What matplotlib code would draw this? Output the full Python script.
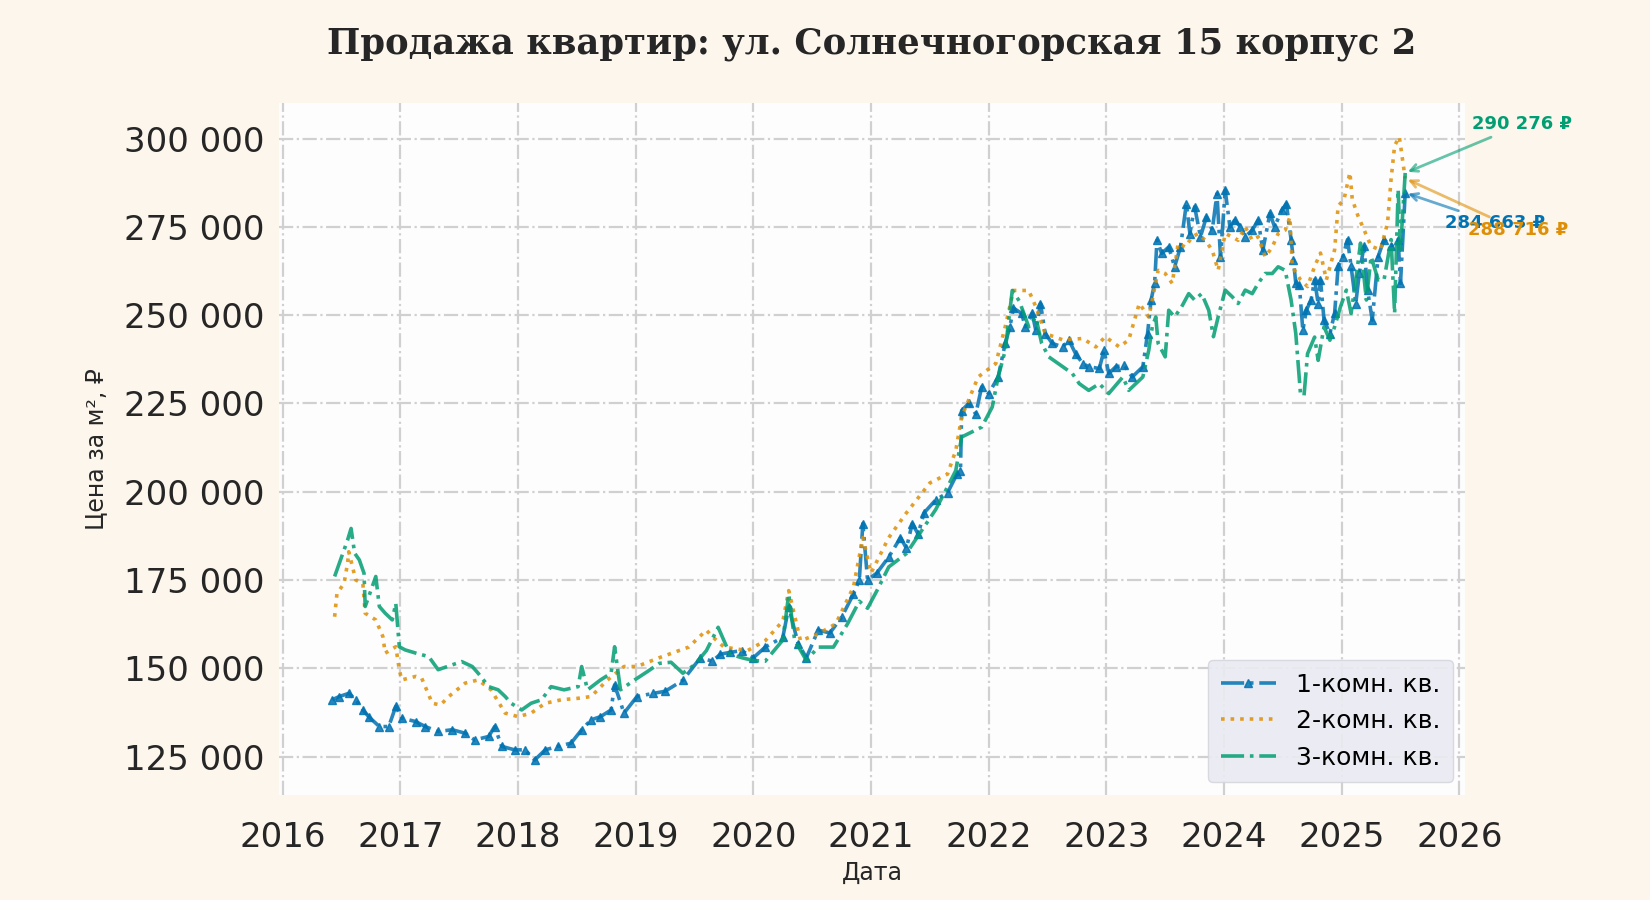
import matplotlib
matplotlib.use("Agg")
import matplotlib.pyplot as plt
from matplotlib.ticker import FuncFormatter, MultipleLocator, FormatStrFormatter

# 1-комн. кв.: (год, тыс. руб. за м²)
dates_1 = [2016.42, 2016.48, 2016.56, 2016.62, 2016.68, 2016.73, 2016.82, 2016.90, 2016.96, 2017.01,
           2017.13, 2017.21, 2017.32, 2017.44, 2017.55, 2017.63, 2017.75, 2017.80, 2017.86, 2017.97,
           2018.06, 2018.14, 2018.23, 2018.34, 2018.45, 2018.54, 2018.62, 2018.70, 2018.79, 2018.82,
           2018.90, 2019.01, 2019.15, 2019.25, 2019.40, 2019.55, 2019.65, 2019.72, 2019.80, 2019.90,
           2020.00, 2020.10, 2020.25, 2020.30, 2020.38, 2020.45, 2020.55, 2020.65, 2020.75, 2020.85,
           2020.90, 2020.93, 2020.97, 2021.05, 2021.15, 2021.25, 2021.30, 2021.35, 2021.40, 2021.45,
           2021.55, 2021.65, 2021.73, 2021.76, 2021.77, 2021.83, 2021.89, 2021.94, 2022.00, 2022.08,
           2022.14, 2022.18, 2022.21, 2022.28, 2022.31, 2022.37, 2022.40, 2022.44, 2022.48, 2022.54,
           2022.63, 2022.68, 2022.74, 2022.80, 2022.85, 2022.94, 2022.98, 2023.02, 2023.08, 2023.15,
           2023.22, 2023.31, 2023.35, 2023.38, 2023.41, 2023.43, 2023.47, 2023.53, 2023.58, 2023.63,
           2023.68, 2023.71, 2023.75, 2023.80, 2023.85, 2023.90, 2023.94, 2023.97, 2024.01, 2024.05,
           2024.09, 2024.14, 2024.18, 2024.24, 2024.29, 2024.33, 2024.39, 2024.43, 2024.49, 2024.53,
           2024.57, 2024.59, 2024.61, 2024.64, 2024.67, 2024.70, 2024.74, 2024.77, 2024.80, 2024.82,
           2024.85, 2024.90, 2024.94, 2024.97, 2025.01, 2025.05, 2025.08, 2025.12, 2025.15, 2025.19,
           2025.22, 2025.26, 2025.31, 2025.36, 2025.42, 2025.48, 2025.50, 2025.54]
price_1 = [141.1, 142.0, 142.9, 141.1, 138.2, 136.3, 133.5, 133.5, 139.2, 135.9,
           134.9, 133.5, 132.1, 132.6, 131.6, 129.7, 130.7, 133.5, 127.9, 126.9,
           126.9, 124.0, 126.9, 127.9, 128.8, 132.6, 135.4, 136.3, 138.2, 145.3,
           137.3, 142.0, 142.9, 143.5, 146.6, 153.0, 152.0, 154.0, 154.5, 155.0,
           153.0, 156.0, 158.8, 167.3, 157.0, 153.0, 160.8, 160.0, 164.5, 171.0,
           175.0, 191.0, 175.0, 177.0, 181.5, 187.0, 184.0, 191.0, 188.0, 194.0,
           197.7, 199.7, 205.0, 206.0, 223.0, 225.0, 222.0, 229.7, 227.8, 232.5,
           242.0, 246.7, 252.0, 250.5, 246.7, 250.5, 245.7, 253.3, 244.8, 242.0,
           241.0, 243.0, 239.0, 236.3, 235.4, 234.9, 240.0, 233.5, 235.4, 235.8,
           232.5, 235.4, 244.8, 254.3, 259.0, 271.2, 267.5, 269.3, 263.7, 269.3,
           281.6, 273.1, 280.7, 272.2, 277.8, 274.1, 284.4, 266.5, 285.4, 275.0,
           276.9, 275.0, 272.2, 274.1, 276.9, 268.4, 278.8, 275.0, 279.7, 281.6,
           271.4, 265.7, 259.0, 258.5, 245.7, 251.4, 254.3, 260.0, 253.3, 260.0,
           248.6, 244.8, 250.5, 263.8, 266.6, 271.4, 263.8, 253.3, 261.9, 269.5,
           257.1, 248.6, 266.6, 271.4, 269.5, 271.4, 259.0, 284.663]

# 2-комн. кв.
dates_2 = [2016.44, 2016.46, 2016.52, 2016.55, 2016.56, 2016.62, 2016.68, 2016.70, 2016.79, 2016.85,
           2016.87, 2016.96, 2016.99, 2017.01, 2017.13, 2017.18, 2017.27, 2017.34, 2017.41, 2017.55,
           2017.66, 2017.77, 2017.89, 2018.00, 2018.11, 2018.23, 2018.37, 2018.51, 2018.62, 2018.76,
           2018.90, 2019.01, 2019.20, 2019.45, 2019.60, 2019.65, 2019.75, 2019.95, 2020.10, 2020.25,
           2020.30, 2020.40, 2020.55, 2020.70, 2020.85, 2020.93, 2021.00, 2021.15, 2021.30, 2021.50,
           2021.65, 2021.72, 2021.77, 2021.91, 2022.06, 2022.14, 2022.21, 2022.34, 2022.40, 2022.48,
           2022.63, 2022.80, 2022.91, 2022.99, 2023.11, 2023.19, 2023.28, 2023.36, 2023.39, 2023.44,
           2023.50, 2023.56, 2023.61, 2023.67, 2023.73, 2023.78, 2023.84, 2023.90, 2023.95, 2024.01,
           2024.07, 2024.12, 2024.18, 2024.24, 2024.29, 2024.35, 2024.41, 2024.46, 2024.52, 2024.56,
           2024.58, 2024.65, 2024.71, 2024.77, 2024.82, 2024.87, 2024.94, 2024.97, 2025.02, 2025.07,
           2025.09, 2025.14, 2025.19, 2025.25, 2025.33, 2025.39, 2025.42, 2025.45, 2025.49, 2025.54]
price_2 = [164.6, 171.2, 174.0, 179.7, 183.0, 175.0, 174.0, 165.6, 163.7, 159.0,
           154.3, 156.1, 149.6, 146.7, 147.7, 147.2, 140.1, 139.6, 142.0, 145.8,
           146.7, 143.9, 137.3, 136.3, 137.3, 140.1, 141.1, 141.5, 142.0, 146.7,
           150.5, 150.5, 153.0, 156.0, 160.8, 159.0, 156.0, 155.0, 157.8, 163.4,
           172.0, 157.8, 159.7, 162.6, 173.0, 187.0, 177.0, 187.0, 194.0, 202.5,
           205.0, 211.7, 221.2, 232.5, 236.3, 246.7, 257.0, 257.0, 252.4, 244.8,
           243.0, 243.4, 241.0, 243.9, 241.0, 243.0, 253.3, 249.5, 254.3, 262.7,
           261.8, 259.0, 270.3, 269.3, 272.2, 273.1, 271.2, 268.4, 262.7, 273.1,
           272.2, 271.2, 275.0, 271.2, 272.2, 266.5, 269.3, 273.1, 274.1, 277.8,
           263.8, 260.0, 258.1, 263.8, 267.6, 260.0, 268.5, 280.9, 282.8, 290.4,
           282.8, 278.0, 274.2, 269.5, 268.5, 276.1, 288.5, 298.0, 300.5, 288.716]

# 3-комн. кв.
dates_3 = [2016.44, 2016.51, 2016.55, 2016.58, 2016.61, 2016.65, 2016.69, 2016.70, 2016.73, 2016.79,
           2016.82, 2016.87, 2016.93, 2016.96, 2016.99, 2017.04, 2017.13, 2017.24, 2017.32, 2017.44,
           2017.52, 2017.61, 2017.66, 2017.75, 2017.83, 2017.89, 2017.94, 2018.03, 2018.11, 2018.20,
           2018.28, 2018.39, 2018.51, 2018.54, 2018.59, 2018.70, 2018.79, 2018.82, 2018.87, 2018.99,
           2019.10, 2019.20, 2019.30, 2019.40, 2019.50, 2019.60, 2019.70, 2019.80, 2019.90, 2020.00,
           2020.10, 2020.25, 2020.30, 2020.35, 2020.45, 2020.55, 2020.68, 2020.80, 2020.90, 2020.97,
           2021.05, 2021.15, 2021.30, 2021.45, 2021.55, 2021.65, 2021.72, 2021.77, 2021.83, 2021.94,
           2022.03, 2022.08, 2022.14, 2022.20, 2022.26, 2022.34, 2022.40, 2022.45, 2022.51, 2022.63,
           2022.71, 2022.77, 2022.85, 2022.94, 2023.02, 2023.14, 2023.19, 2023.31, 2023.36, 2023.39,
           2023.42, 2023.44, 2023.50, 2023.53, 2023.58, 2023.64, 2023.70, 2023.75, 2023.81, 2023.87,
           2023.91, 2023.95, 2024.01, 2024.07, 2024.12, 2024.18, 2024.24, 2024.29, 2024.35, 2024.41,
           2024.46, 2024.52, 2024.57, 2024.61, 2024.65, 2024.68, 2024.71, 2024.77, 2024.80, 2024.85,
           2024.90, 2024.94, 2024.99, 2025.04, 2025.08, 2025.12, 2025.16, 2025.21, 2025.25, 2025.31,
           2025.36, 2025.42, 2025.45, 2025.48, 2025.50, 2025.54]
price_3 = [176.0, 182.6, 186.3, 189.6, 182.6, 180.7, 176.9, 167.5, 170.3, 176.0,
           167.5, 165.6, 163.7, 168.4, 156.1, 155.2, 154.3, 153.3, 149.6, 151.0,
           151.9, 150.5, 148.6, 144.8, 143.9, 142.0, 140.1, 138.2, 140.1, 141.1,
           144.8, 143.9, 144.8, 150.5, 143.9, 146.7, 148.6, 156.1, 143.9, 146.7,
           149.1, 151.4, 151.7, 148.6, 151.0, 155.0, 161.6, 154.0, 153.0, 152.2,
           152.0, 158.0, 171.0, 158.0, 152.2, 156.0, 156.0, 162.6, 169.0, 167.0,
           172.0, 178.7, 182.5, 190.0, 195.0, 201.4, 206.0, 215.5, 216.5, 218.3,
           224.0, 232.5, 240.0, 257.0, 254.0, 246.7, 249.5, 242.0, 238.2, 235.4,
           233.5, 230.6, 228.7, 230.6, 227.8, 232.5, 228.7, 232.5, 240.0, 246.7,
           249.5, 242.0, 238.2, 251.4, 249.5, 252.4, 256.1, 254.3, 256.1, 251.4,
           243.9, 249.5, 257.1, 255.2, 253.3, 257.1, 256.1, 259.0, 261.8, 261.8,
           263.7, 262.7, 254.3, 244.8, 227.7, 227.2, 239.1, 243.8, 237.2, 246.7,
           242.9, 246.7, 252.4, 257.1, 250.5, 260.0, 270.4, 254.3, 266.6, 260.0,
           260.0, 271.4, 250.5, 285.6, 268.5, 290.276]

labels = ["1-комн. кв.", "2-комн. кв.", "3-комн. кв."]
colors = ["#0173b2", "#de8f05", "#029e73"]
styles = ["-.", ":", "-."]
markers = ["^", None, None]

series = [(dates_1, price_1), (dates_2, price_2), (dates_3, price_3)]

fig = plt.figure(figsize=(16.5, 9), dpi=100, facecolor="#fdf6ed")
ax = fig.add_axes([0.169, 0.117, 0.719, 0.769])
ax.set_facecolor("#fdfdfd")

for (x, y), lab, c, ls, mk in zip(series, labels, colors, styles, markers):
    ax.plot(x, [v * 1000 for v in y], linestyle=ls, color=c, marker=mk, markersize=6,
            linewidth=2.6, alpha=0.85, label=lab)

# подписи последних значений
offsets = [(65, -22), (81, -37), (84, 35)]
for (x, y), c, off in zip(series, colors, offsets):
    last = y[-1] * 1000
    txt = f"{round(last):,} ₽".replace(",", " ")
    ax.annotate(txt, xy=(x[-1], last), xytext=off, textcoords="offset points",
                ha="center", va="center", fontsize=13, fontweight="bold", color=c,
                annotation_clip=False,
                arrowprops=dict(arrowstyle="->", color=c, alpha=0.6, lw=2))

ax.set_xlim(2015.966, 2026.05)
ax.set_ylim(114200, 310200)
ax.xaxis.set_major_locator(MultipleLocator(1))
ax.xaxis.set_major_formatter(FormatStrFormatter("%d"))
ax.yaxis.set_major_locator(MultipleLocator(25000))
ax.yaxis.set_major_formatter(FuncFormatter(lambda v, p: f"{int(v):,}".replace(",", " ")))

ax.grid(True, linestyle="-.", color="#d0d0d0", linewidth=1.6)
ax.set_axisbelow(True)
for s in ax.spines.values():
    s.set_visible(False)
ax.tick_params(length=0, labelsize=24.5, labelcolor="#262626")
ax.tick_params(axis="y", pad=10)
ax.tick_params(axis="x", pad=19)

ax.set_title("Продажа квартир: ул. Солнечногорская 15 корпус 2", family="DejaVu Serif",
             fontweight="bold", fontsize=25.5, color="#262626", pad=35)
ax.set_xlabel("Дата", fontsize=17, color="#262626", labelpad=5)
ax.set_ylabel("Цена за м², ₽", fontsize=17, color="#262626", labelpad=12)

leg = ax.legend(loc="lower right", fontsize=18, frameon=True, facecolor="#eaeaf2",
                edgecolor="#d5d5dd", framealpha=0.9, borderpad=0.5, handlelength=2.2)

fig.savefig("out.png", dpi=100, facecolor=fig.get_facecolor())
